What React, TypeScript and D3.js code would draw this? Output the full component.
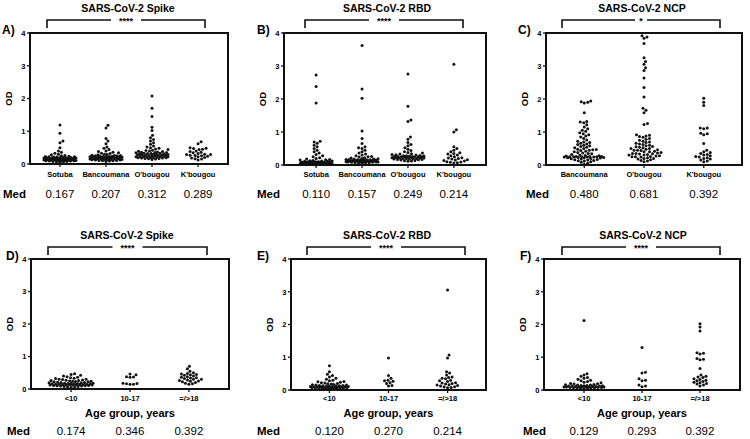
import React from "react";
import * as d3 from "d3";

// ---------- categories & ticks ----------
const siteCats4 = ["Sotuba", "Bancoumana", "O'bougou", "K'bougou"];
const siteCats3 = ["Bancoumana", "O'bougou", "K'bougou"];
const ageCats = ["<10", "10-17", "=/>18"];
const yTicks = [0, 1, 2, 3, 4];

// ---------- A) Spike by site ----------
const spikeSotuba = [1.19, 0.94, 0.70, 0.65, 0.50, 0.40, 0.36, 0.33, 0.30, 0.28, 0.26, 0.25, 0.24, 0.23, 0.22, 0.21, 0.20, 0.20, 0.19, 0.19, 0.18, 0.18, 0.17, 0.17, 0.17, 0.16, 0.16, 0.16, 0.15, 0.15, 0.15, 0.14, 0.14, 0.14, 0.14, 0.13, 0.13, 0.13, 0.12, 0.12, 0.12, 0.11, 0.11, 0.11, 0.10, 0.10, 0.10, 0.09, 0.09, 0.08, 0.08, 0.07, 0.06, 0.05, 0.20, 0.21, 0.22, 0.18, 0.16, 0.15];
const spikeBancoumana = [1.18, 1.10, 0.78, 0.70, 0.62, 0.52, 0.48, 0.44, 0.40, 0.38, 0.36, 0.34, 0.33, 0.32, 0.30, 0.29, 0.28, 0.27, 0.26, 0.25, 0.25, 0.24, 0.23, 0.23, 0.22, 0.22, 0.21, 0.21, 0.21, 0.20, 0.20, 0.20, 0.19, 0.19, 0.19, 0.18, 0.18, 0.18, 0.17, 0.17, 0.17, 0.16, 0.16, 0.16, 0.15, 0.15, 0.15, 0.14, 0.14, 0.14, 0.13, 0.13, 0.12, 0.12, 0.11, 0.11, 0.10, 0.10, 0.09, 0.08, 0.20, 0.22, 0.24, 0.26, 0.19];
const spikeObougou = [2.08, 1.70, 1.45, 1.12, 1.02, 0.88, 0.80, 0.75, 0.70, 0.65, 0.60, 0.55, 0.52, 0.50, 0.48, 0.46, 0.44, 0.42, 0.41, 0.40, 0.39, 0.38, 0.37, 0.36, 0.35, 0.35, 0.34, 0.33, 0.33, 0.32, 0.32, 0.31, 0.31, 0.30, 0.30, 0.29, 0.29, 0.28, 0.28, 0.27, 0.27, 0.26, 0.26, 0.25, 0.25, 0.24, 0.24, 0.23, 0.23, 0.22, 0.22, 0.21, 0.21, 0.20, 0.20, 0.19, 0.19, 0.18, 0.18, 0.17, 0.17, 0.16, 0.15, 0.14];
const spikeKbougou = [0.68, 0.62, 0.50, 0.48, 0.47, 0.45, 0.44, 0.40, 0.38, 0.36, 0.34, 0.32, 0.30, 0.29, 0.29, 0.27, 0.26, 0.25, 0.24, 0.22, 0.20, 0.18, 0.16, 0.15, 0.12];
const medA = ["0.167", "0.207", "0.312", "0.289"];

// ---------- B) RBD by site ----------
const rbdSotuba = [2.73, 2.38, 1.88, 0.72, 0.70, 0.66, 0.60, 0.55, 0.50, 0.45, 0.40, 0.36, 0.32, 0.28, 0.25, 0.22, 0.20, 0.18, 0.17, 0.16, 0.15, 0.14, 0.13, 0.12, 0.12, 0.11, 0.11, 0.10, 0.10, 0.10, 0.09, 0.09, 0.09, 0.08, 0.08, 0.08, 0.08, 0.07, 0.07, 0.07, 0.07, 0.06, 0.06, 0.06, 0.06, 0.05, 0.05, 0.05, 0.05, 0.04, 0.04, 0.04, 0.04, 0.03, 0.03, 0.03, 0.03, 0.02, 0.02, 0.06, 0.07, 0.05, 0.04, 0.08];
const rbdBancoumana = [3.62, 2.30, 2.02, 1.03, 0.80, 0.65, 0.55, 0.52, 0.50, 0.45, 0.40, 0.36, 0.33, 0.30, 0.28, 0.26, 0.25, 0.24, 0.22, 0.21, 0.20, 0.19, 0.18, 0.18, 0.17, 0.17, 0.16, 0.16, 0.15, 0.15, 0.15, 0.14, 0.14, 0.14, 0.13, 0.13, 0.13, 0.12, 0.12, 0.12, 0.11, 0.11, 0.11, 0.10, 0.10, 0.10, 0.09, 0.09, 0.09, 0.08, 0.08, 0.07, 0.07, 0.06, 0.06, 0.05, 0.12, 0.14, 0.16, 0.13];
const rbdObougou = [2.76, 1.78, 1.36, 1.32, 0.85, 0.78, 0.68, 0.62, 0.58, 0.52, 0.48, 0.44, 0.40, 0.38, 0.36, 0.34, 0.33, 0.32, 0.31, 0.30, 0.29, 0.28, 0.28, 0.27, 0.27, 0.26, 0.26, 0.25, 0.25, 0.24, 0.24, 0.23, 0.23, 0.22, 0.22, 0.21, 0.21, 0.20, 0.20, 0.19, 0.19, 0.18, 0.18, 0.17, 0.17, 0.16, 0.15, 0.14, 0.13, 0.12, 0.11, 0.25, 0.24, 0.26];
const rbdKbougou = [3.05, 1.07, 1.00, 0.55, 0.50, 0.45, 0.40, 0.37, 0.35, 0.33, 0.30, 0.28, 0.25, 0.22, 0.21, 0.20, 0.18, 0.16, 0.15, 0.14, 0.12, 0.10, 0.09, 0.08, 0.07, 0.06];
const medB = ["0.110", "0.157", "0.249", "0.214"];

// ---------- C) NCP by site ----------
const ncpBancoumana = [1.94, 1.92, 1.90, 1.88, 1.58, 1.32, 1.30, 1.28, 1.22, 1.15, 1.10, 1.05, 1.02, 0.98, 0.95, 0.92, 0.88, 0.85, 0.80, 0.76, 0.72, 0.70, 0.68, 0.66, 0.64, 0.62, 0.60, 0.58, 0.56, 0.54, 0.52, 0.50, 0.48, 0.47, 0.46, 0.45, 0.44, 0.42, 0.40, 0.38, 0.36, 0.35, 0.34, 0.32, 0.30, 0.29, 0.28, 0.27, 0.26, 0.26, 0.25, 0.25, 0.25, 0.24, 0.24, 0.23, 0.23, 0.22, 0.22, 0.21, 0.20, 0.19, 0.18, 0.17, 0.16, 0.15, 0.14, 0.13, 0.12, 0.10, 0.08, 0.05, 0.02, 0.26, 0.25, 0.24];
const ncpObougou = [3.92, 3.88, 3.84, 3.68, 3.25, 3.14, 3.05, 2.95, 2.86, 2.64, 2.35, 2.06, 1.72, 1.66, 1.58, 1.26, 1.23, 0.92, 0.90, 0.88, 0.86, 0.84, 0.80, 0.78, 0.75, 0.72, 0.70, 0.68, 0.66, 0.64, 0.62, 0.60, 0.58, 0.56, 0.54, 0.52, 0.50, 0.48, 0.46, 0.45, 0.44, 0.42, 0.40, 0.38, 0.36, 0.35, 0.34, 0.33, 0.32, 0.30, 0.28, 0.27, 0.26, 0.25, 0.24, 0.22, 0.20, 0.18, 0.16, 0.14, 0.12, 0.10, 0.35, 0.40, 0.45, 0.50, 0.55, 0.30, 0.25, 0.20];
const ncpKbougou = [2.02, 1.90, 1.80, 1.12, 1.10, 1.12, 0.96, 0.92, 0.95, 0.65, 0.45, 0.40, 0.38, 0.35, 0.32, 0.30, 0.28, 0.26, 0.24, 0.22, 0.20, 0.18, 0.15, 0.12, 0.10];
const medC = ["0.480", "0.681", "0.392"];

// ---------- D) Spike by age ----------
const spikeUnder10 = [0.47, 0.45, 0.42, 0.40, 0.38, 0.36, 0.35, 0.33, 0.32, 0.30, 0.30, 0.29, 0.28, 0.27, 0.26, 0.26, 0.25, 0.24, 0.24, 0.23, 0.22, 0.22, 0.21, 0.20, 0.20, 0.19, 0.19, 0.18, 0.18, 0.17, 0.17, 0.17, 0.16, 0.16, 0.16, 0.15, 0.15, 0.15, 0.14, 0.14, 0.14, 0.13, 0.13, 0.13, 0.12, 0.12, 0.12, 0.11, 0.11, 0.10, 0.10, 0.09, 0.09, 0.08, 0.08, 0.07, 0.06, 0.05];
const spike10to17 = [0.46, 0.44, 0.38, 0.37, 0.36, 0.18, 0.17, 0.16, 0.15, 0.15];
const spikeAdult = [0.70, 0.62, 0.55, 0.50, 0.48, 0.46, 0.45, 0.44, 0.42, 0.40, 0.38, 0.36, 0.35, 0.34, 0.32, 0.30, 0.30, 0.28, 0.26, 0.25, 0.24, 0.22, 0.20, 0.18, 0.16, 0.15];
const medD = ["0.174", "0.346", "0.392"];

// ---------- E) RBD by age ----------
const rbdUnder10 = [0.74, 0.56, 0.48, 0.44, 0.40, 0.36, 0.33, 0.30, 0.28, 0.26, 0.25, 0.24, 0.22, 0.21, 0.20, 0.19, 0.18, 0.17, 0.16, 0.15, 0.15, 0.14, 0.14, 0.13, 0.13, 0.12, 0.12, 0.12, 0.11, 0.11, 0.11, 0.10, 0.10, 0.10, 0.09, 0.09, 0.09, 0.08, 0.08, 0.08, 0.07, 0.07, 0.07, 0.06, 0.06, 0.06, 0.05, 0.05, 0.05, 0.04, 0.04, 0.03];
const rbd10to17 = [0.98, 0.44, 0.36, 0.30, 0.28, 0.27, 0.22, 0.20, 0.14, 0.12];
const rbdAdult = [3.05, 1.07, 0.98, 0.56, 0.52, 0.46, 0.40, 0.38, 0.36, 0.34, 0.30, 0.28, 0.26, 0.22, 0.21, 0.20, 0.18, 0.16, 0.15, 0.14, 0.12, 0.10, 0.09, 0.08, 0.07];
const medE = ["0.120", "0.270", "0.214"];

// ---------- F) NCP by age ----------
const ncpUnder10 = [2.12, 0.50, 0.46, 0.42, 0.38, 0.36, 0.33, 0.30, 0.28, 0.26, 0.24, 0.22, 0.20, 0.19, 0.18, 0.17, 0.16, 0.15, 0.15, 0.14, 0.14, 0.13, 0.13, 0.12, 0.12, 0.12, 0.11, 0.11, 0.11, 0.10, 0.10, 0.10, 0.10, 0.09, 0.09, 0.09, 0.08, 0.08, 0.08, 0.07, 0.07, 0.06, 0.06, 0.05, 0.05, 0.04];
const ncp10to17 = [1.30, 0.54, 0.52, 0.34, 0.30, 0.28, 0.15, 0.12, 0.10];
const ncpAdult = [2.02, 1.92, 1.80, 1.14, 1.10, 1.12, 0.96, 0.94, 0.92, 0.66, 0.46, 0.42, 0.40, 0.38, 0.34, 0.32, 0.30, 0.28, 0.26, 0.24, 0.22, 0.20, 0.18, 0.15, 0.12];
const medF = ["0.129", "0.293", "0.392"];

// ---------- panel layout ----------
type Panel = {
  tag: string; title: string; sig: string; cats: string[]; series: number[][]; med: string[];
  left: number; right: number; top: number; bottom: number; pad: number; halfW: number;
  tagX: number; titleX: number; titleY: number; bx0: number; bx1: number; by: number;
  catY: number; medY: number; medX: number; xTitle?: string; xTitleY?: number;
};

const panels: Panel[] = [
  { tag: "A)", title: "SARS-CoV-2 Spike", sig: "****", cats: siteCats4, series: [spikeSotuba, spikeBancoumana, spikeObougou, spikeKbougou], med: medA,
    left: 30, right: 228, top: 33, bottom: 164, pad: 0.65, halfW: 16, tagX: 2, titleX: 128, titleY: 12, bx0: 47, bx1: 205, by: 20, catY: 177, medY: 198, medX: 3 },
  { tag: "B)", title: "SARS-CoV-2 RBD", sig: "****", cats: siteCats4, series: [rbdSotuba, rbdBancoumana, rbdObougou, rbdKbougou], med: medB,
    left: 284, right: 486, top: 33, bottom: 165, pad: 0.7, halfW: 16, tagX: 257, titleX: 387, titleY: 12, bx0: 305, bx1: 463, by: 20, catY: 177, medY: 198, medX: 257 },
  { tag: "C)", title: "SARS-CoV-2 NCP", sig: "*", cats: siteCats3, series: [ncpBancoumana, ncpObougou, ncpKbougou], med: medC,
    left: 546, right: 742, top: 33, bottom: 165, pad: 0.64, halfW: 20, tagX: 518, titleX: 642, titleY: 12, bx0: 562, bx1: 720, by: 20, catY: 177, medY: 198, medX: 526 },
  { tag: "D)", title: "SARS-CoV-2 Spike", sig: "****", cats: ageCats, series: [spikeUnder10, spike10to17, spikeAdult], med: medD,
    left: 31, right: 229, top: 259, bottom: 389, pad: 0.68, halfW: 22, tagX: 6, titleX: 127, titleY: 239, bx0: 48, bx1: 207, by: 247, catY: 401, medY: 435, medX: 7, xTitle: "Age group, years", xTitleY: 417 },
  { tag: "E)", title: "SARS-CoV-2 RBD", sig: "****", cats: ageCats, series: [rbdUnder10, rbd10to17, rbdAdult], med: medE,
    left: 291, right: 486, top: 259, bottom: 390, pad: 0.65, halfW: 19, tagX: 257, titleX: 387, titleY: 239, bx0: 307, bx1: 465, by: 247, catY: 401, medY: 435, medX: 257, xTitle: "Age group, years", xTitleY: 417 },
  { tag: "F)", title: "SARS-CoV-2 NCP", sig: "****", cats: ageCats, series: [ncpUnder10, ncp10to17, ncpAdult], med: medF,
    left: 544, right: 740, top: 259, bottom: 390, pad: 0.69, halfW: 20, tagX: 520, titleX: 643, titleY: 239, bx0: 562, bx1: 720, by: 247, catY: 401, medY: 435, medX: 523, xTitle: "Age group, years", xTitleY: 417 },
];

const FONT = "'Liberation Sans', Arial, sans-serif";

// bounded beeswarm: nearest free slot within ±halfW, else the least crowded slot
function swarm(values: number[], y: (v: number) => number, cx: number, d: number, halfW: number) {
  const sorted = [...values].sort((a, b) => a - b);
  const placed: { x: number; y: number }[] = [];
  const offsets: number[] = [0];
  for (let o = 0.5; o <= halfW; o += 0.5) { offsets.push(o, -o); }
  for (const v of sorted) {
    const yy = y(v);
    let best = cx, bestScore = -1, found = false;
    for (const off of offsets) {
      const cand = cx + off;
      let minD = Infinity;
      for (const p of placed) {
        const dd = (p.x - cand) ** 2 + (p.y - yy) ** 2;
        if (dd < minD) minD = dd;
      }
      if (minD >= d * d) { best = cand; found = true; break; }
      if (minD > bestScore) { bestScore = minD; best = cand; }
    }
    void found;
    placed.push({ x: best, y: yy });
  }
  return placed;
}

function PanelView({ p }: { p: Panel }) {
  const y = d3.scaleLinear().domain([0, 4]).range([p.bottom, p.top]);
  const x = d3.scalePoint<string>().domain(p.cats).range([p.left, p.right]).padding(p.pad);
  const mid = (p.bx0 + p.bx1) / 2;
  const gap = p.sig.length > 1 ? 15 : 6;
  return (
    <g>
      <text x={p.titleX} y={p.titleY} textAnchor="middle" fontSize={10.5} fontWeight="bold">{p.title}</text>
      <path d={`M${p.bx0},${p.by + 8}V${p.by}H${mid - gap}M${mid + gap},${p.by}H${p.bx1}V${p.by + 8}`} fill="none" stroke="#111" strokeWidth={1.6} />
      <text x={mid} y={p.by + 4} textAnchor="middle" fontSize={9} fontWeight="bold">{p.sig}</text>
      <text x={p.tagX} y={p.top + 1} fontSize={12} fontWeight="bold">{p.tag}</text>
      <text transform={`translate(${p.left - 18},${(p.top + p.bottom) / 2}) rotate(-90)`} textAnchor="middle" fontSize={9.5} fontWeight="bold">OD</text>
      {yTicks.map(t => (
        <g key={t}>
          <line x1={p.left - 3} x2={p.left} y1={y(t)} y2={y(t)} stroke="#111" strokeWidth={1.3} />
          <text x={p.left - 4.5} y={y(t) + 2.8} textAnchor="end" fontSize={7.5} fontWeight="bold">{t}</text>
        </g>
      ))}
      {p.cats.map((c, i) => (
        <g key={c}>
          <line x1={x(c)!} x2={x(c)!} y1={p.bottom} y2={p.bottom + 3} stroke="#111" strokeWidth={1.3} />
          <text x={x(c)!} y={p.catY} textAnchor="middle" fontSize={7.5} fontWeight="bold">{c}</text>
          <text x={x(c)!} y={p.medY} textAnchor="middle" fontSize={11.5}>{p.med[i]}</text>
          {swarm(p.series[i], y, x(c)!, 3.2, p.halfW).map((pt, j) => (
            <circle key={j} cx={pt.x} cy={pt.y} r={1.5} fill="#111" />
          ))}
        </g>
      ))}
      <rect x={p.left} y={p.top} width={p.right - p.left} height={p.bottom - p.top} fill="none" stroke="#111" strokeWidth={2} />
      {p.xTitle && (
        <text x={(p.left + p.right) / 2} y={p.xTitleY} textAnchor="middle" fontSize={11} fontWeight="bold">{p.xTitle}</text>
      )}
      <text x={p.medX} y={p.medY} fontSize={11.5} fontWeight="bold">Med</text>
    </g>
  );
}

export default function App() {
  return (
    <svg width={750} height={439} style={{ position: "absolute", left: 0, top: 0, background: "#fff" }} fontFamily={FONT}>
      <rect width={750} height={439} fill="#fff" />
      {panels.map(p => <PanelView key={p.tag} p={p} />)}
    </svg>
  );
}
